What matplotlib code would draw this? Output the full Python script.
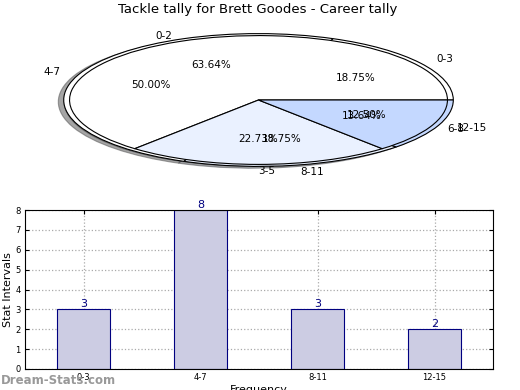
import numpy as np
import matplotlib
matplotlib.use('Agg')
import matplotlib.pyplot as plt

# Data
bins_a = ['0-3', '4-7', '8-11', '12-15']
counts_a = [3, 8, 3, 2]
bins_b = ['0-2', '3-5', '6-8']
counts_b = [14, 5, 3]

colors_a = ['white', 'white', '#eaf1ff', '#c4d8ff']
colors_b = ['white', '#eaf1ff', '#c4d8ff']

fig = plt.figure(figsize=(5.2, 3.9), dpi=100)

# Pie part (two pies drawn on top of each other, squashed)
ax1 = fig.add_axes([15 / 520, 1 - 183 / 390, 487 / 520, 166 / 390])
ax1.pie(counts_a, labels=bins_a, colors=colors_a, autopct='%1.2f%%', shadow=True,
        radius=1.0, wedgeprops={'edgecolor': 'black', 'linewidth': 0.8},
        textprops={'fontsize': 7.5})
ax1.pie(counts_b, labels=bins_b, colors=colors_b, autopct='%1.2f%%', shadow=True,
        radius=0.97, wedgeprops={'edgecolor': 'black', 'linewidth': 0.8},
        textprops={'fontsize': 7.5})
ax1.set_xlim(-1.25, 1.25)
ax1.set_ylim(-1.25, 1.25)
ax1.set_aspect('auto')
fig.text(258 / 520, 1 - 10 / 390, 'Tackle tally for Brett Goodes - Career tally',
         ha='center', va='center', fontsize=9.5)

# Bar part
ax2 = fig.add_axes([25 / 520, 1 - 369 / 390, 468 / 520, 159 / 390])
x = np.arange(len(bins_a))
bars = ax2.bar(x, counts_a, width=0.45, color='#ccccE3', edgecolor='navy', linewidth=0.8, zorder=2)
for xi, v in zip(x, counts_a):
    ax2.text(xi, v, str(v), ha='center', va='bottom', color='navy', fontsize=8)
ax2.set_xlim(-0.5, 3.5)
ax2.set_ylim(0, 8)
ax2.set_xticks(x)
ax2.set_xticklabels(bins_a)
ax2.set_yticks(range(0, 9))
ax2.tick_params(labelsize=6, direction='in', top=True, right=True, length=3, pad=3)
ax2.grid(True, linestyle=':', color='#aaaaaa', linewidth=0.9, zorder=0)
ax2.set_axisbelow(True)
ax2.set_ylabel('Stat Intervals', fontsize=8, labelpad=2)
ax2.set_xlabel('Frequency', fontsize=8, labelpad=2)

fig.text(1 / 520, 1 - 380 / 390, 'Dream-Stats.com', color='#999999', fontsize=8.5,
         fontweight='bold', ha='left', va='center')

plt.savefig('out.png', dpi=100)
